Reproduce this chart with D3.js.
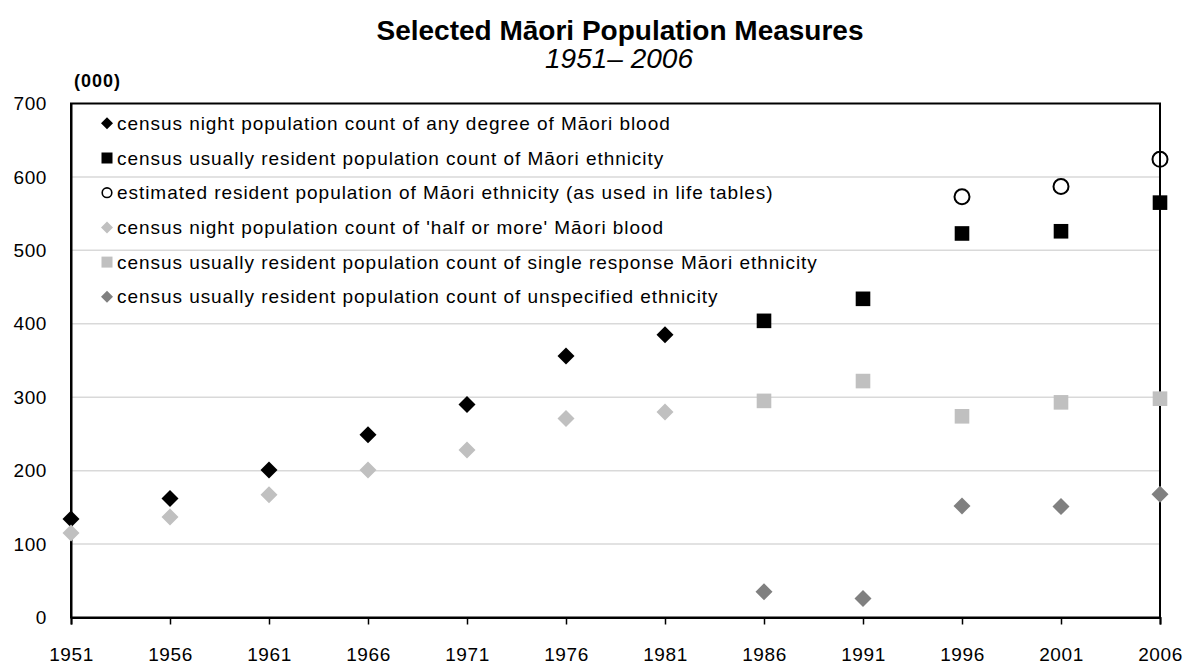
<!DOCTYPE html>
<html>
<head>
<meta charset="utf-8">
<script src="https://cdn.jsdelivr.net/npm/d3@7"></script>
<style>
  html, body { margin: 0; padding: 0; background: #fff; }
  svg { display: block; font-family: "Liberation Sans", Arial, sans-serif; }
</style>
</head>
<body>
<svg id="chart" width="1191" height="664"></svg>
<script>
const years = [1951, 1956, 1961, 1966, 1971, 1976, 1981, 1986, 1991, 1996, 2001, 2006];
const yTicks = [0, 100, 200, 300, 400, 500, 600, 700];

const anyDegreeBlood    = [134, 162, 201, 249, 290, 356, 385, null, null, null, null, null];
const maoriEthnicity    = [null, null, null, null, null, null, null, 404, 434, 523, 526, 565];
const estimatedResident = [null, null, null, null, null, null, null, null, null, 573, 587, 624];
const halfOrMoreBlood   = [115, 137, 167, 201, 228, 271, 280, null, null, null, null, null];
const singleResponse    = [null, null, null, null, null, null, null, 295, 322, 274, 293, 298];
const unspecified       = [null, null, null, null, null, null, null, 35, 26, 152, 151, 168];

const seriesNames = [
  "census night population count of any degree of Māori blood",
  "census usually resident population count of Māori ethnicity",
  "estimated resident population of Māori ethnicity (as used in life tables)",
  "census night population count of 'half or more' Māori blood",
  "census usually resident population count of single response Māori ethnicity",
  "census usually resident population count of unspecified ethnicity"
];
const seriesValues = [anyDegreeBlood, maoriEthnicity, estimatedResident, halfOrMoreBlood, singleResponse, unspecified];
const seriesShapes = ["diamond", "square", "circle", "diamond", "square", "diamond"];
const seriesColors = ["#000000", "#000000", "#000000", "#c0c0c0", "#c0c0c0", "#808080"];

const svg = d3.select("#chart");
const pLeft = 71, pRight = 1160, pTop = 103.5, pBottom = 617.5;

const x = d3.scaleLinear().domain([1951, 2006]).range([pLeft, pRight]);
const y = d3.scaleLinear().domain([0, 700]).range([pBottom, pTop]);

// Title
svg.append("text").attr("x", 620).attr("y", 40).attr("text-anchor", "middle")
  .attr("font-size", 28).attr("font-weight", "bold").text("Selected Māori Population Measures");
svg.append("text").attr("x", 619).attr("y", 68).attr("text-anchor", "middle")
  .attr("font-size", 28).attr("font-style", "italic").text("1951– 2006");
svg.append("text").attr("x", 74).attr("y", 87).attr("font-size", 18).attr("font-weight", "bold")
  .attr("letter-spacing", 1).text("(000)");

// Gridlines
svg.append("g").selectAll("line").data(yTicks.filter(d => d > 0 && d < 700)).join("line")
  .attr("x1", pLeft).attr("x2", pRight).attr("y1", d => y(d)).attr("y2", d => y(d))
  .attr("stroke", "#d9d9d9").attr("stroke-width", 1.5);

// Plot border
svg.append("rect").attr("x", pLeft).attr("y", pTop).attr("width", pRight - pLeft).attr("height", pBottom - pTop)
  .attr("fill", "none").attr("stroke", "#000").attr("stroke-width", 2);

// Axes
const xAxis = d3.axisBottom(x).tickValues(years).tickFormat(d3.format("d")).tickSize(7).tickPadding(23);
const gx = svg.append("g").attr("transform", `translate(0,${pBottom})`).call(xAxis);
gx.select(".domain").attr("stroke-width", 2);
gx.selectAll(".tick line").attr("stroke-width", 1.5);
gx.selectAll("text").attr("font-size", 19).attr("letter-spacing", 0.6).attr("fill", "#000")
  .attr("font-family", "Liberation Sans, Arial, sans-serif");

const yAxis = d3.axisLeft(y).tickValues(yTicks).tickSize(0).tickPadding(24);
const gy = svg.append("g").attr("transform", `translate(${pLeft},0)`).call(yAxis);
gy.select(".domain").attr("stroke-width", 2);
gy.selectAll("text").attr("font-size", 19).attr("letter-spacing", 0.6).attr("fill", "#000")
  .attr("font-family", "Liberation Sans, Arial, sans-serif");

function drawMarker(g, shape, color, d, s, r, sw) {
  if (shape === "diamond") {
    g.append("path").attr("d", `M0,${-d}L${d},0L0,${d}L${-d},0Z`).attr("fill", color);
  } else if (shape === "square") {
    g.append("rect").attr("x", -s).attr("y", -s).attr("width", 2 * s).attr("height", 2 * s).attr("fill", color);
  } else {
    g.append("circle").attr("r", r).attr("fill", "none").attr("stroke", color).attr("stroke-width", sw);
  }
}

// Points
seriesValues.forEach((vals, i) => {
  const pts = years.map((yr, j) => ({ yr, v: vals[j] })).filter(d => d.v != null);
  const g = svg.append("g");
  g.selectAll("g").data(pts).join("g")
    .attr("transform", d => `translate(${x(d.yr)},${y(d.v)})`)
    .each(function () { drawMarker(d3.select(this), seriesShapes[i], seriesColors[i], 8.5, 7.3, 7.5, 2); });
});

// Legend
const legendY0 = 123.3, legendStep = 34.7;
seriesNames.forEach((name, i) => {
  const g = svg.append("g").attr("transform", `translate(107,${legendY0 + i * legendStep})`);
  drawMarker(g, seriesShapes[i], seriesColors[i], 6, 5.5, 4.8, 1.6);
  g.append("text").attr("x", 10).attr("y", 0).attr("dy", "0.35em").attr("font-size", 19)
    .attr("letter-spacing", 0.95).text(name);
});
</script>
</body>
</html>
